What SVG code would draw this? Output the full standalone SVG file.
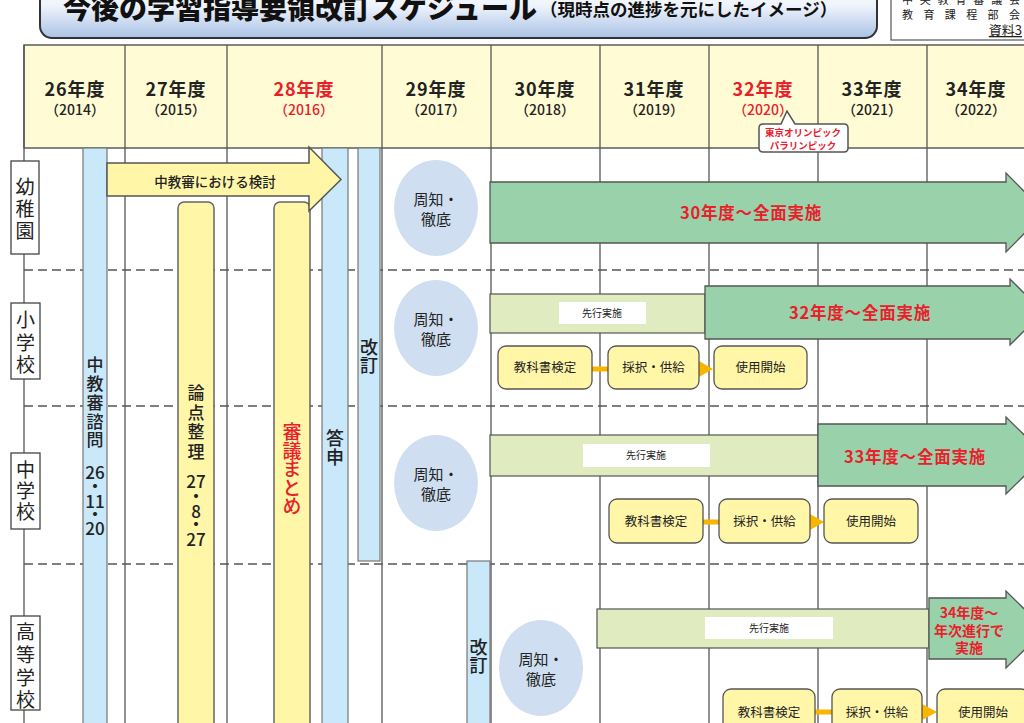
<svg xmlns="http://www.w3.org/2000/svg" width="1024" height="723" viewBox="0 0 1024 723">
<defs>
<linearGradient id="tg" x1="0" y1="0" x2="0" y2="1">
<stop offset="0" stop-color="#ffffff"/>
<stop offset="0.45" stop-color="#eef3fb"/>
<stop offset="1" stop-color="#a9c2e6"/>
</linearGradient>
<style>
text{font-family:"Noto Sans CJK JP","Noto Sans",sans-serif;fill:#222;}
.yr{font-size:18px;font-weight:700;text-anchor:middle;letter-spacing:1px;}
.yp{font-size:14px;font-weight:500;text-anchor:middle;}
.red{fill:#e8202a;}
.grid{stroke:#555;stroke-width:1.3;}
.dash{stroke:#555;stroke-width:1.3;stroke-dasharray:9 5;}
.blue{fill:#c9e8fa;stroke:#777;stroke-width:1.2;}
.ybar{fill:#fff6a8;stroke:#666;stroke-width:1.5;}
.ybox{fill:#fff6a8;stroke:#555;stroke-width:1.3;}
.green{fill:#99d1ab;stroke:#555;stroke-width:1.3;}
.lgreen{fill:#e0ecc0;stroke:#555;stroke-width:1.2;}
.wlab{fill:#ffffff;}
.ell{fill:#cfdff1;}
.lab{fill:#fff;stroke:#444;stroke-width:1.3;}
.vv{writing-mode:vertical-rl;font-weight:500;}
.dg{font-size:17px;font-weight:500;text-anchor:middle;}
.lv{writing-mode:vertical-rl;font-size:19px;}
.et{font-size:15px;text-anchor:middle;}
.bt{font-size:12.5px;text-anchor:middle;}
.st{font-size:10px;text-anchor:middle;}
.gt{font-size:16.5px;font-weight:700;text-anchor:middle;letter-spacing:0.8px;}
.con{stroke:#f7b500;stroke-width:5;}
.tri{fill:#f7b500;}
</style>
</defs>
<rect width="1024" height="723" fill="#fff"/>

<g id="title">
<rect x="40" y="-20" width="837" height="58" rx="12" fill="url(#tg)" stroke="#333" stroke-width="2"/>
<text x="63" y="19" style="font-size:28px;font-weight:900;fill:#111">今後の学習指導要領改訂スケジュール</text>
<text x="540" y="16" style="font-size:17.5px;font-weight:700;fill:#111">（現時点の進捗を元にしたイメージ）</text>
</g>

<g id="doc-label">
<rect x="891" y="-10" width="140" height="50" fill="#fff" stroke="#555" stroke-width="1.2"/>
<text x="902" y="4" textLength="118" lengthAdjust="spacing" style="font-size:11px">中央教育審議会</text>
<text x="902" y="19" textLength="118" lengthAdjust="spacing" style="font-size:11px">教育課程部会</text>
<text x="1022" y="35" text-decoration="underline" style="font-size:13px;text-anchor:end">資料3</text>
</g>

<g id="header">
<rect x="24" y="45" width="1010" height="103" fill="#fffbd4" stroke="#444" stroke-width="1.3"/>
<text class="yr" x="75" y="96">26年度</text><text class="yp" x="75" y="115">（2014）</text>
<text class="yr" x="176" y="96">27年度</text><text class="yp" x="176" y="115">（2015）</text>
<text class="yr red" x="304" y="96">28年度</text><text class="yp red" x="304" y="115">（2016）</text>
<text class="yr" x="436" y="96">29年度</text><text class="yp" x="436" y="115">（2017）</text>
<text class="yr" x="545" y="96">30年度</text><text class="yp" x="545" y="115">（2018）</text>
<text class="yr" x="654" y="96">31年度</text><text class="yp" x="654" y="115">（2019）</text>
<text class="yr red" x="763" y="96">32年度</text><text class="yp red" x="763" y="115">（2020）</text>
<text class="yr" x="872" y="96">33年度</text><text class="yp" x="872" y="115">（2021）</text>
<text class="yr" x="976" y="96">34年度</text><text class="yp" x="976" y="115">（2022）</text>
</g>

<g id="grid">
<line class="grid" x1="24" y1="45" x2="24" y2="723"/>
<line class="grid" x1="125" y1="45" x2="125" y2="723"/>
<line class="grid" x1="227" y1="45" x2="227" y2="723"/>
<line class="grid" x1="382" y1="45" x2="382" y2="723"/>
<line class="grid" x1="491" y1="45" x2="491" y2="723"/>
<line class="grid" x1="600" y1="45" x2="600" y2="723"/>
<line class="grid" x1="709" y1="45" x2="709" y2="723"/>
<line class="grid" x1="818" y1="45" x2="818" y2="723"/>
<line class="grid" x1="927" y1="45" x2="927" y2="723"/>
<line class="dash" x1="24" y1="270" x2="1024" y2="270"/>
<line class="dash" x1="24" y1="406" x2="1024" y2="406"/>
<line class="dash" x1="24" y1="564" x2="1024" y2="564"/>
</g>

<g id="olympic">
<path d="M763 124 H781 L787 111 L795 124 H844 Q848 124 848 128 V148 Q848 152 844 152 H763 Q759 152 759 148 V128 Q759 124 763 124 Z" fill="#fff" stroke="#555" stroke-width="1.5"/>
<text x="803" y="136" class="red" style="font-size:9.5px;font-weight:700;text-anchor:middle">東京オリンピック</text>
<text x="803" y="149" class="red" style="font-size:9.5px;font-weight:700;text-anchor:middle">パラリンピック</text>
</g>

<g id="row-labels">
<rect class="lab" x="11" y="161" width="28" height="93"/>
<text class="lv" x="25" y="177.5" style="letter-spacing:3px">幼稚園</text>
<rect class="lab" x="11" y="303" width="29" height="76"/>
<text class="lv" x="25.5" y="310.5" style="letter-spacing:3.5px">小学校</text>
<rect class="lab" x="11" y="453" width="29" height="76"/>
<text class="lv" x="25.5" y="460.5" style="letter-spacing:2px">中学校</text>
<rect class="lab" x="11" y="616" width="29" height="94"/>
<text class="lv" x="25.5" y="622.5" style="letter-spacing:3.7px">高等学校</text>
</g>

<g id="shimon">
<rect class="blue" x="83" y="148" width="24" height="590"/>
<text class="vv" x="95" y="356.5" style="font-size:17px;letter-spacing:1.75px">中教審諮問</text>
<text class="dg"><tspan x="95" y="479">26</tspan><tspan x="95" y="493">・</tspan><tspan x="95" y="508">11</tspan><tspan x="95" y="521">・</tspan><tspan x="95" y="535">20</tspan></text>
</g>

<g id="ronten">
<rect class="ybar" x="178" y="202" width="36" height="540" rx="6"/>
<text class="vv" x="196" y="384" style="font-size:17px;letter-spacing:2.7px">論点整理</text>
<text class="dg"><tspan x="196" y="488">27</tspan><tspan x="196" y="503">・</tspan><tspan x="196" y="518">8</tspan><tspan x="196" y="531">・</tspan><tspan x="196" y="546">27</tspan></text>
</g>

<g id="matome">
<rect class="ybar" x="274" y="202" width="36" height="540" rx="6"/>
<text class="vv red" x="292" y="422.5" style="font-size:19px;letter-spacing:-0.5px">審議まとめ</text>
</g>

<g id="toshin">
<rect class="blue" x="322" y="148" width="26" height="590"/>
<text class="vv" x="335" y="429" style="font-size:18px;letter-spacing:1px">答申</text>
</g>

<g id="kaitei1">
<rect class="blue" x="358" y="148" width="22" height="413"/>
<text class="vv" x="369" y="338" style="font-size:18px">改訂</text>
</g>

<g id="kentou">
<polygon points="107,163 309,163 309,147 341,179.5 309,211 309,196 107,196" fill="#fff6a8" stroke="#555" stroke-width="1.5"/>
<text x="215" y="187" style="font-size:13.5px;font-weight:500;text-anchor:middle">中教審における検討</text>
</g>

<g id="kaitei2">
<rect class="blue" x="467" y="561" width="23" height="180"/>
<text class="vv" x="478.5" y="638" style="font-size:18px">改訂</text>
</g>

<g id="shuchi">
<ellipse class="ell" cx="436" cy="208" rx="42" ry="48"/>
<text class="et" x="436" y="205">周知・</text><text class="et" x="436" y="225">徹底</text>
<ellipse class="ell" cx="436" cy="328" rx="42" ry="48"/>
<text class="et" x="436" y="325">周知・</text><text class="et" x="436" y="345">徹底</text>
<ellipse class="ell" cx="436" cy="483" rx="42" ry="48"/>
<text class="et" x="436" y="480">周知・</text><text class="et" x="436" y="500">徹底</text>
<ellipse class="ell" cx="541" cy="668" rx="42" ry="48"/>
<text class="et" x="541" y="665">周知・</text><text class="et" x="541" y="685">徹底</text>
</g>

<g id="youchien">
<polygon class="green" points="490,182 1006,182 1006,173 1045,212.5 1006,252 1006,243 490,243"/>
<text class="gt red" x="751" y="219">30年度～全面実施</text>
</g>

<g id="shogakko">
<rect class="lgreen" x="490" y="294" width="215" height="39"/>
<rect class="wlab" x="559" y="302" width="87" height="22"/>
<text class="st" x="602" y="317">先行実施</text>
<polygon class="green" points="705,286 1010,286 1010,279 1043,312 1010,345 1010,339 705,339"/>
<text class="gt red" x="860" y="319">32年度～全面実施</text>
</g>

<g id="chugakko">
<rect class="lgreen" x="490" y="435" width="328" height="41"/>
<rect class="wlab" x="583" y="444" width="127" height="23"/>
<text class="st" x="646" y="459">先行実施</text>
<polygon class="green" points="818,424 1006,424 1006,417 1045,455.5 1006,494 1006,486 818,486"/>
<text class="gt red" x="915" y="463">33年度～全面実施</text>
</g>

<g id="kotogakko">
<rect class="lgreen" x="597" y="609" width="332" height="39"/>
<rect class="wlab" x="705" y="617" width="128" height="22"/>
<text class="st" x="769" y="632">先行実施</text>
<polygon class="green" points="929,598 1006,598 1006,591 1045,629.5 1006,668 1006,659 929,659"/>
<text class="red" x="969" y="618" style="font-size:14px;font-weight:700;text-anchor:middle">34年度～</text>
<text class="red" x="969" y="636" style="font-size:14px;font-weight:700;text-anchor:middle">年次進行で</text>
<text class="red" x="969" y="653" style="font-size:14px;font-weight:700;text-anchor:middle">実施</text>
</g>

<g id="connectors">
<line class="con" x1="592" y1="369" x2="608" y2="369"/>
<polygon class="tri" points="699,361 713,369 699,377"/>
<line class="con" x1="703" y1="522" x2="719" y2="522"/>
<polygon class="tri" points="810,514 824,522 810,530"/>
<line class="con" x1="815" y1="712" x2="832" y2="712"/>
<polygon class="tri" points="922,704 937,712 922,720"/>
</g>

<g id="sho-boxes">
<rect class="ybox" x="498" y="346" width="94" height="43" rx="8"/><text class="bt" x="545" y="372">教科書検定</text>
<rect class="ybox" x="608" y="346" width="91" height="43" rx="8"/><text class="bt" x="653.5" y="372">採択・供給</text>
<rect class="ybox" x="714" y="346" width="93" height="43" rx="8"/><text class="bt" x="760.5" y="372">使用開始</text>
</g>

<g id="chu-boxes">
<rect class="ybox" x="609" y="499" width="94" height="44" rx="8"/><text class="bt" x="656" y="526">教科書検定</text>
<rect class="ybox" x="719" y="499" width="91" height="44" rx="8"/><text class="bt" x="764.5" y="526">採択・供給</text>
<rect class="ybox" x="824" y="499" width="94" height="44" rx="8"/><text class="bt" x="871" y="526">使用開始</text>
</g>

<g id="ko-boxes">
<rect class="ybox" x="723" y="689" width="92" height="45" rx="8"/><text class="bt" x="769" y="717">教科書検定</text>
<rect class="ybox" x="832" y="689" width="90" height="45" rx="8"/><text class="bt" x="877" y="717">採択・供給</text>
<rect class="ybox" x="937" y="689" width="92" height="45" rx="8"/><text class="bt" x="983" y="717">使用開始</text>
</g>
</svg>
